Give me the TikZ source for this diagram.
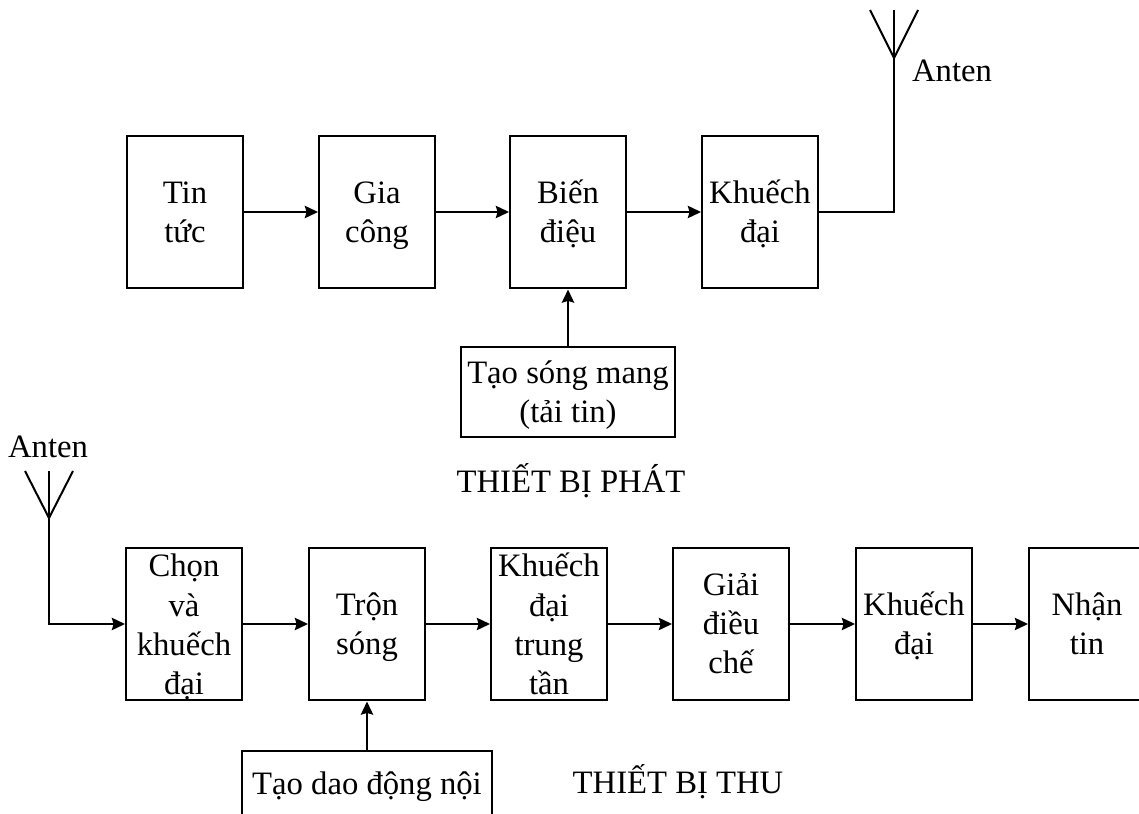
\documentclass[tikz,border=0pt]{standalone}
\usepackage{fontspec}
\setmainfont{Liberation Serif}
\usepackage{tikz}
\usetikzlibrary{arrows.meta}

\tikzset{twolines/.style={text height=1.24cm,text depth=0pt},
         threelines/.style={text height=2cm,text depth=0pt},
         fourlines/.style={text height=2.84cm,text depth=0pt}}

\begin{document}
\begin{tikzpicture}[x=0.02cm,y=-0.02cm,line width=1.14pt,>={Stealth[length=7.5pt,width=7pt,inset=1pt]}]
	\clip (0,0) rectangle (1139,814);

	\begin{scope}[every node/.style={draw,align=center,inner sep=0pt,minimum width=2.32cm,minimum height=3.06cm,
	              font=\fontsize{18.6}{22.4}\selectfont}]
	    % transmitter
	    \node (TT) [twolines] at (185,212) {Tin\\tức};
	    \node (GC) [twolines] at (377,212) {Gia\\công};
	    \node (BD) [twolines] at (568,212) {Biến\\điệu};
	    \node (KD) [twolines] at (760,212) {Khuếch\\đại};
	    \node (TS) [twolines,minimum width=4.28cm,minimum height=1.8cm] at (568,392) {Tạo sóng mang\\(tải tin)};
	    % receiver
	    \node (CK) [fourlines] at (184,624) {Chọn\\và\\khuếch\\đại};
	    \node (TR) [twolines] at (367,624) {Trộn\\sóng};
	    \node (KT) [fourlines] at (549,624) {Khuếch\\đại\\trung\\tần};
	    \node (GD) [threelines] at (731,624) {Giải\\điều\\chế};
	    \node (KR) [twolines] at (914,624) {Khuếch\\đại};
	    \node (NT) [twolines] at (1087,624) {Nhận\\tin};
	    \node (DD) [minimum width=5cm,minimum height=2cm,text depth=.72cm] at (367,801) {Tạo dao động nội};
	\end{scope}

	\begin{scope}[every node/.style={font=\fontsize{18.6}{22}\selectfont}]
	    \node (L1) at (952,71) {Anten};
	    \node (L2) at (48,447) {Anten};
	    \node (L3) at (571,481) {THIẾT BỊ PHÁT};
	    \node (L4) at (678,782) {THIẾT BỊ THU};
	\end{scope}

	\coordinate (P1) at (894,58);
	\coordinate (P1a) at (870,10);
	\coordinate (P1b) at (894,10);
	\coordinate (P1c) at (918,10);
	\coordinate (P2) at (49,518);
	\coordinate (P2a) at (25,471);
	\coordinate (P2b) at (49,471);
	\coordinate (P2c) at (73,471);

	\begin{scope}[every edge/.style={draw=black}]
    	\path [->] (TT) edge (GC);
    	\path [->] (GC) edge (BD);
    	\path [->] (BD) edge (KD);
    	\path [->] (TS) edge (BD);
    	\path [->] (CK) edge (TR);
    	\path [->] (TR) edge (KT);
    	\path [->] (KT) edge (GD);
    	\path [->] (GD) edge (KR);
    	\path [->] (KR) edge (NT);
    	\path [->] (DD) edge (TR);
	\end{scope}

	% antennas
	\draw (KD.east) -| (P1b);
	\draw (P1a) -- (P1) -- (P1c);
	\draw [->] (P2b) |- (CK.west);
	\draw (P2a) -- (P2) -- (P2c);
\end{tikzpicture}
\end{document}
